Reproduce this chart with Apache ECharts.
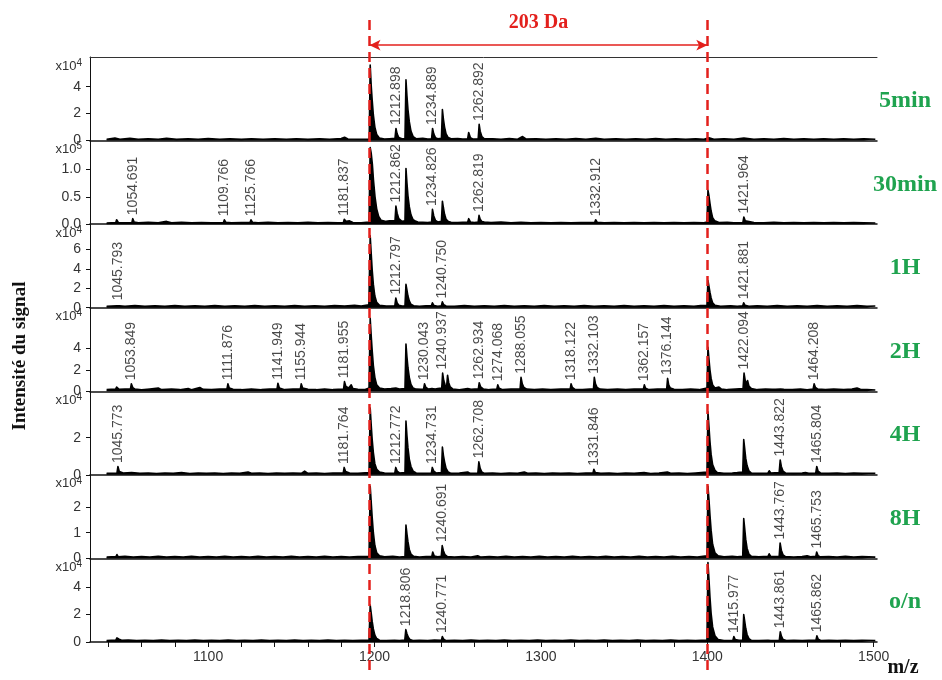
<!DOCTYPE html>
<html>
<head>
<meta charset="utf-8">
<script src="https://cdn.jsdelivr.net/npm/echarts@6/dist/echarts.min.js"></script>
<style>
  html, body { margin: 0; padding: 0; background: #fff; }
  #chart { width: 942px; height: 680px; }
</style>
</head>
<body>
<div id="chart"></div>
<script>
// m/z range shared by all stacked spectra
const mzMin = 1029;
const mzMax = 1502;
const xTickLabels = [1100, 1200, 1300, 1400, 1500];
const xMinorTicks = [1040, 1060, 1080, 1100, 1120, 1140, 1160, 1180, 1200, 1220, 1240, 1260, 1280,
  1300, 1320, 1340, 1360, 1380, 1400, 1420, 1440, 1460, 1480, 1500];

// Reaction times, one spectrum each
const panelNames = ['5min', '30min', '1H', '2H', '4H', '8H', 'o/n'];
const panelExponents = [4, 5, 4, 4, 4, 4, 4];
const panelMax = [6.2, 1.53, 8.6, 7.8, 4.5, 3.25, 6.1];
const yTicks5min = [0, 2, 4];
const yTicks30min = [0, 0.5, 1.0];
const yTicks1H = [0, 2, 4, 6];
const yTicks2H = [0, 2, 4];
const yTicks4H = [0, 2];
const yTicks8H = [0, 1, 2];
const yTicksON = [0, 2, 4];
const yDecimals = [0, 1, 0, 0, 0, 0, 0];

// Mass shift between the two main species
const shiftLines = [1197, 1400];
const shiftLabel = '203 Da';

// Spectra: [m/z, intensity] in units of 10^exponent
const trace5min = [[1039,0.10],[1044,0.18],[1047,0.10],[1053,0.16],[1058,0.10],[1064,0.14],[1070,0.10],[1075,0.16],[1081,0.09],[1088,0.14],[1094,0.10],[1100,0.15],[1107,0.10],[1113,0.14],[1120,0.09],[1126,0.13],[1133,0.10],[1140,0.14],[1147,0.10],[1153,0.13],[1160,0.09],[1167,0.14],[1173,0.10],[1180,0.15],[1182,0.25],[1184,0.12],[1190,0.10],[1196.8,0.12],[1197.4,5.6],[1198.0,4.1],[1198.6,3.0],[1199.3,1.9],[1200.2,1.0],[1201.3,0.45],[1203,0.18],[1206,0.12],[1209,0.14],[1212.3,0.16],[1212.898,0.9],[1213.6,0.5],[1214.6,0.22],[1216.5,0.13],[1218.3,0.15],[1218.9,4.5],[1219.5,3.3],[1220.1,2.3],[1220.9,1.4],[1221.9,0.7],[1223.2,0.3],[1225,0.14],[1229,0.16],[1232,0.11],[1234.3,0.14],[1234.889,0.9],[1235.6,0.5],[1236.6,0.22],[1238,0.14],[1240.2,0.16],[1240.8,2.3],[1241.4,1.6],[1242.1,1.0],[1243,0.5],[1244.3,0.22],[1246,0.13],[1250,0.15],[1253,0.11],[1256,0.14],[1256.6,0.6],[1257.6,0.22],[1259,0.12],[1262.3,0.14],[1262.892,1.2],[1263.5,0.7],[1264.5,0.3],[1266,0.13],[1271,0.14],[1276,0.10],[1281,0.15],[1286,0.10],[1289,0.3],[1291,0.12],[1297,0.14],[1303,0.10],[1309,0.13],[1315,0.10],[1321,0.15],[1327,0.10],[1333,0.17],[1338,0.10],[1345,0.14],[1351,0.10],[1357,0.13],[1363,0.10],[1369,0.15],[1375,0.10],[1381,0.13],[1387,0.10],[1393,0.14],[1398,0.10],[1401,0.2],[1404,0.10],[1410,0.14],[1416,0.10],[1422,0.18],[1428,0.10],[1434,0.13],[1440,0.10],[1446,0.15],[1452,0.10],[1458,0.13],[1464,0.10],[1470,0.14],[1476,0.10],[1482,0.13],[1488,0.10],[1494,0.13],[1501,0.10]];
const labels5min = [1212.898, 1234.889, 1262.892];

const trace30min = [[1039,0.02],[1044.5,0.03],[1045,0.08],[1046,0.03],[1050,0.025],[1054.2,0.03],[1054.691,0.1],[1055.5,0.04],[1058,0.025],[1064,0.035],[1070,0.025],[1075,0.05],[1078,0.025],[1084,0.035],[1090,0.025],[1096,0.03],[1102,0.025],[1109.2,0.03],[1109.766,0.08],[1110.6,0.035],[1114,0.025],[1120,0.03],[1125.2,0.03],[1125.766,0.08],[1126.6,0.035],[1130,0.025],[1136,0.035],[1142,0.025],[1148,0.03],[1154,0.025],[1160,0.035],[1166,0.025],[1172,0.03],[1178,0.025],[1181.3,0.03],[1181.837,0.09],[1183,0.05],[1185,0.06],[1187,0.03],[1192,0.025],[1196.7,0.04],[1197.4,1.4],[1198.0,1.3],[1198.7,1.1],[1199.4,0.8],[1200.3,0.5],[1201.3,0.28],[1202.5,0.14],[1204,0.07],[1207,0.05],[1209,0.06],[1212.3,0.06],[1212.862,0.33],[1213.6,0.2],[1214.6,0.1],[1216.5,0.05],[1218.3,0.06],[1218.9,1.02],[1219.5,0.75],[1220.1,0.52],[1220.9,0.32],[1221.9,0.17],[1223.2,0.08],[1224.5,0.06],[1226,0.04],[1229,0.035],[1232,0.03],[1234.3,0.04],[1234.826,0.27],[1235.6,0.15],[1236.6,0.07],[1238,0.04],[1240.2,0.05],[1240.8,0.42],[1241.4,0.3],[1242.1,0.18],[1243,0.09],[1244.3,0.05],[1246,0.035],[1250,0.03],[1256,0.04],[1256.6,0.1],[1257.6,0.04],[1260,0.03],[1262.3,0.04],[1262.819,0.16],[1263.5,0.09],[1264.5,0.05],[1266,0.04],[1270,0.03],[1276,0.04],[1282,0.025],[1288,0.035],[1294,0.025],[1300,0.03],[1306,0.025],[1312,0.03],[1318,0.025],[1324,0.03],[1332.3,0.03],[1332.912,0.08],[1333.8,0.035],[1338,0.025],[1344,0.03],[1350,0.025],[1356,0.03],[1362,0.025],[1368,0.03],[1374,0.025],[1380,0.03],[1386,0.025],[1392,0.03],[1398,0.025],[1399.8,0.04],[1400.4,0.62],[1401.0,0.52],[1401.6,0.38],[1402.3,0.24],[1403.2,0.12],[1404.5,0.06],[1407,0.03],[1412,0.035],[1416,0.025],[1421.4,0.03],[1421.964,0.13],[1422.8,0.06],[1424,0.035],[1428,0.03],[1434,0.025],[1440,0.035],[1446,0.025],[1452,0.03],[1458,0.025],[1464,0.03],[1470,0.025],[1476,0.03],[1482,0.025],[1488,0.03],[1494,0.025],[1501,0.02]];
const labels30min = [1054.691, 1109.766, 1125.766, 1181.837, 1212.862, 1234.826, 1262.819, 1332.912, 1421.964];

const trace1H = [[1039,0.15],[1045.2,0.2],[1045.793,0.4],[1046.6,0.2],[1050,0.15],[1056,0.22],[1062,0.15],[1068,0.2],[1074,0.15],[1080,0.22],[1086,0.15],[1092,0.2],[1098,0.15],[1104,0.22],[1110,0.15],[1116,0.2],[1122,0.15],[1128,0.22],[1134,0.15],[1140,0.2],[1146,0.15],[1152,0.22],[1158,0.15],[1164,0.2],[1170,0.15],[1176,0.22],[1182,0.18],[1188,0.24],[1192,0.18],[1196.6,0.3],[1197.4,7.4],[1198.0,5.6],[1198.6,3.9],[1199.3,2.4],[1200.2,1.2],[1201.3,0.55],[1203,0.25],[1207,0.18],[1212.2,0.2],[1212.797,1.0],[1213.6,0.5],[1214.6,0.25],[1216.5,0.18],[1218.3,0.2],[1218.9,2.4],[1219.5,1.8],[1220.1,1.2],[1220.9,0.7],[1221.9,0.35],[1223.5,0.2],[1227,0.15],[1231,0.2],[1234.2,0.2],[1234.8,0.5],[1235.8,0.22],[1238,0.15],[1240.2,0.2],[1240.750,0.6],[1241.6,0.3],[1243,0.18],[1248,0.15],[1254,0.22],[1260,0.15],[1266,0.2],[1272,0.15],[1278,0.22],[1284,0.15],[1290,0.2],[1296,0.15],[1302,0.22],[1308,0.15],[1314,0.2],[1320,0.15],[1326,0.22],[1332,0.15],[1338,0.2],[1344,0.15],[1350,0.22],[1356,0.15],[1362,0.2],[1368,0.15],[1374,0.22],[1380,0.15],[1386,0.2],[1392,0.15],[1396,0.22],[1399.8,0.25],[1400.4,2.8],[1401.0,2.2],[1401.6,1.6],[1402.3,1.0],[1403.2,0.5],[1404.6,0.25],[1408,0.15],[1414,0.2],[1418,0.15],[1421.3,0.2],[1421.881,0.5],[1422.7,0.25],[1425,0.15],[1430,0.2],[1436,0.15],[1442,0.22],[1448,0.15],[1454,0.2],[1460,0.15],[1466,0.22],[1472,0.15],[1478,0.2],[1484,0.15],[1490,0.22],[1496,0.15],[1501,0.18]];
const labels1H = [1045.793, 1212.797, 1240.750, 1421.881];

const trace2H = [[1039,0.15],[1044.4,0.2],[1045,0.4],[1046.5,0.18],[1050,0.2],[1053.3,0.2],[1053.849,0.7],[1054.7,0.35],[1056,0.2],[1060,0.15],[1065,0.22],[1070,0.3],[1072,0.15],[1078,0.2],[1083,0.15],[1088,0.25],[1090,0.15],[1095,0.35],[1097,0.18],[1102,0.15],[1107,0.2],[1111.3,0.2],[1111.876,0.7],[1112.7,0.3],[1115,0.18],[1120,0.15],[1126,0.22],[1132,0.15],[1137,0.2],[1141.4,0.2],[1141.949,0.75],[1142.8,0.3],[1146,0.15],[1151,0.2],[1155.4,0.2],[1155.944,0.7],[1156.8,0.3],[1160,0.18],[1165,0.15],[1170,0.22],[1175,0.15],[1181.4,0.2],[1181.955,0.9],[1182.8,0.45],[1184.5,0.3],[1186,0.6],[1187,0.25],[1190,0.18],[1194,0.15],[1196.7,0.3],[1197.4,6.8],[1198.0,5.2],[1198.6,3.8],[1199.3,2.4],[1200.2,1.3],[1201.3,0.6],[1203,0.3],[1206,0.2],[1210,0.25],[1212.8,0.3],[1215,0.2],[1218.3,0.25],[1218.9,4.4],[1219.5,3.2],[1220.1,2.2],[1220.9,1.3],[1221.9,0.65],[1223.2,0.3],[1225,0.2],[1228,0.18],[1229.5,0.22],[1230.043,0.7],[1230.9,0.35],[1232.5,0.2],[1234.5,0.25],[1235,0.4],[1236.5,0.2],[1238,0.25],[1240.4,0.3],[1240.937,1.7],[1241.6,1.0],[1242.4,0.6],[1243.3,0.4],[1243.9,1.5],[1244.6,0.8],[1245.5,0.4],[1247,0.22],[1251,0.15],[1256,0.25],[1258,0.18],[1262.4,0.22],[1262.934,0.8],[1263.8,0.4],[1265.5,0.2],[1269,0.15],[1273.5,0.2],[1274.068,0.6],[1274.9,0.28],[1277,0.15],[1282,0.2],[1287.5,0.22],[1288.055,1.3],[1288.8,0.7],[1289.8,0.35],[1291.5,0.2],[1296,0.15],[1301,0.2],[1306,0.15],[1312,0.2],[1317.6,0.2],[1318.122,0.7],[1318.9,0.35],[1320.5,0.18],[1325,0.15],[1331.6,0.22],[1332.103,1.3],[1332.8,0.7],[1333.8,0.35],[1335.5,0.2],[1340,0.15],[1346,0.2],[1351,0.15],[1356,0.2],[1361.6,0.2],[1362.157,0.6],[1362.9,0.28],[1365,0.15],[1370,0.2],[1375.6,0.22],[1376.144,1.2],[1376.8,0.6],[1377.8,0.3],[1380,0.18],[1385,0.15],[1390,0.2],[1395,0.15],[1399.8,0.3],[1400.4,4.1],[1401.0,3.0],[1401.6,2.0],[1402.3,1.2],[1403.2,0.6],[1404.6,0.3],[1407,0.4],[1408.5,0.2],[1412,0.15],[1417,0.2],[1421.5,0.25],[1422.094,1.7],[1422.8,1.0],[1423.5,0.7],[1424.2,1.0],[1425,0.5],[1426.5,0.25],[1430,0.15],[1435,0.2],[1439,0.18],[1440,0.35],[1441,0.18],[1444,0.2],[1445,0.3],[1446,0.18],[1451,0.15],[1456,0.2],[1460,0.15],[1463.6,0.2],[1464.208,0.7],[1465,0.35],[1466.5,0.2],[1471,0.15],[1476,0.2],[1482,0.15],[1487,0.2],[1490,0.3],[1492,0.18],[1496,0.15],[1501,0.12]];
const labels2H = [1053.849, 1111.876, 1141.949, 1155.944, 1181.955, 1230.043, 1240.937, 1262.934,
  1274.068, 1288.055, 1318.122, 1332.103, 1362.157, 1376.144, 1422.094, 1464.208];

const trace4H = [[1039,0.08],[1045.2,0.1],[1045.773,0.45],[1046.6,0.18],[1049,0.1],[1054,0.12],[1059,0.08],[1064,0.1],[1069,0.07],[1074,0.1],[1079,0.08],[1084,0.12],[1089,0.07],[1094,0.1],[1099,0.08],[1104,0.1],[1109,0.07],[1114,0.1],[1119,0.08],[1124,0.15],[1126,0.08],[1131,0.1],[1136,0.07],[1141,0.1],[1146,0.08],[1151,0.1],[1156,0.08],[1158,0.2],[1160,0.08],[1165,0.1],[1170,0.07],[1175,0.1],[1181.2,0.1],[1181.764,0.4],[1182.6,0.18],[1185,0.1],[1190,0.08],[1196.7,0.12],[1197.4,3.6],[1198.0,2.7],[1198.6,1.9],[1199.3,1.2],[1200.2,0.6],[1201.3,0.3],[1203,0.15],[1206,0.1],[1210,0.08],[1212.2,0.1],[1212.772,0.4],[1213.6,0.2],[1215,0.1],[1218.3,0.12],[1218.9,2.9],[1219.5,2.1],[1220.1,1.45],[1220.9,0.85],[1221.9,0.45],[1223.2,0.2],[1225,0.1],[1229,0.08],[1234.2,0.1],[1234.731,0.4],[1235.6,0.2],[1237,0.1],[1240.2,0.12],[1240.8,1.5],[1241.4,1.05],[1242.1,0.7],[1243,0.35],[1244.3,0.15],[1246,0.08],[1251,0.1],[1256,0.15],[1257.5,0.08],[1262.1,0.1],[1262.708,0.7],[1263.5,0.35],[1264.5,0.15],[1266,0.08],[1271,0.1],[1276,0.07],[1281,0.1],[1286,0.08],[1290,0.15],[1292,0.08],[1297,0.1],[1302,0.07],[1307,0.1],[1312,0.08],[1317,0.1],[1322,0.07],[1327,0.1],[1331.3,0.1],[1331.846,0.3],[1332.7,0.12],[1336,0.08],[1341,0.1],[1346,0.07],[1351,0.1],[1356,0.08],[1362,0.12],[1366,0.07],[1371,0.1],[1376,0.15],[1378,0.08],[1383,0.1],[1388,0.07],[1393,0.1],[1399.8,0.15],[1400.4,3.4],[1401.0,2.6],[1401.6,1.8],[1402.3,1.1],[1403.2,0.55],[1404.6,0.25],[1406,0.12],[1410,0.08],[1415,0.1],[1418,0.12],[1421.3,0.15],[1421.9,1.9],[1422.5,1.4],[1423.1,0.9],[1423.9,0.5],[1425,0.22],[1426.5,0.1],[1431,0.08],[1436.5,0.1],[1437.2,0.22],[1438.2,0.1],[1443.2,0.12],[1443.822,0.8],[1444.5,0.45],[1445.5,0.2],[1447,0.1],[1452,0.08],[1457,0.1],[1459,0.12],[1461,0.08],[1465.2,0.1],[1465.804,0.45],[1466.6,0.2],[1468,0.1],[1473,0.08],[1478,0.1],[1483,0.07],[1488,0.1],[1493,0.08],[1501,0.08]];
const labels4H = [1045.773, 1181.764, 1212.772, 1234.731, 1262.708, 1331.846, 1443.822, 1465.804];

const trace8H = [[1039,0.05],[1044.6,0.07],[1045.2,0.15],[1046,0.06],[1050,0.08],[1055,0.05],[1060,0.07],[1065,0.05],[1070,0.08],[1075,0.05],[1080,0.07],[1085,0.05],[1090,0.08],[1095,0.05],[1100,0.07],[1105,0.05],[1110,0.08],[1115,0.05],[1120,0.07],[1125,0.05],[1130,0.08],[1135,0.05],[1140,0.07],[1145,0.05],[1150,0.08],[1155,0.05],[1160,0.07],[1165,0.05],[1170,0.08],[1175,0.05],[1180,0.07],[1185,0.05],[1190,0.07],[1196.7,0.08],[1197.4,2.8],[1198.0,2.2],[1198.6,1.6],[1199.3,1.0],[1200.2,0.5],[1201.3,0.22],[1203,0.1],[1206,0.06],[1211,0.08],[1215,0.05],[1218.3,0.07],[1218.9,1.3],[1219.5,0.95],[1220.1,0.65],[1220.9,0.35],[1221.9,0.17],[1223.5,0.08],[1227,0.05],[1231,0.07],[1234.4,0.07],[1235,0.25],[1235.9,0.09],[1238,0.06],[1240.1,0.08],[1240.691,0.5],[1241.4,0.3],[1242.3,0.15],[1243.8,0.07],[1248,0.05],[1253,0.07],[1258,0.05],[1262,0.1],[1264,0.05],[1269,0.07],[1274,0.05],[1279,0.08],[1284,0.05],[1289,0.07],[1294,0.05],[1299,0.08],[1304,0.05],[1309,0.07],[1314,0.05],[1319,0.08],[1324,0.05],[1329,0.07],[1334,0.05],[1339,0.08],[1344,0.05],[1349,0.07],[1354,0.05],[1359,0.08],[1364,0.05],[1369,0.07],[1374,0.05],[1379,0.08],[1384,0.05],[1389,0.07],[1394,0.05],[1399.8,0.1],[1400.4,2.8],[1401.0,2.3],[1401.6,1.7],[1402.3,1.1],[1403.2,0.55],[1404.6,0.22],[1406.5,0.1],[1410,0.06],[1415,0.08],[1418,0.06],[1421.3,0.08],[1421.9,1.55],[1422.5,1.15],[1423.1,0.75],[1423.9,0.4],[1425,0.17],[1426.5,0.08],[1431,0.06],[1436.5,0.08],[1437.2,0.18],[1438.2,0.07],[1443.2,0.08],[1443.767,0.6],[1444.5,0.32],[1445.5,0.14],[1447,0.07],[1452,0.05],[1457,0.07],[1460,0.1],[1462,0.06],[1465.2,0.08],[1465.753,0.25],[1466.6,0.1],[1468,0.06],[1473,0.07],[1478,0.05],[1483,0.08],[1488,0.05],[1493,0.07],[1501,0.05]];
const labels8H = [1240.691, 1443.767, 1465.753];

const traceON = [[1039,0.1],[1044.6,0.15],[1045.2,0.3],[1046.5,0.2],[1048,0.12],[1052,0.15],[1057,0.1],[1062,0.13],[1067,0.1],[1072,0.14],[1077,0.1],[1082,0.13],[1087,0.1],[1092,0.14],[1097,0.1],[1102,0.13],[1107,0.1],[1112,0.14],[1117,0.1],[1122,0.13],[1127,0.1],[1132,0.14],[1137,0.1],[1142,0.13],[1147,0.1],[1152,0.14],[1157,0.1],[1162,0.13],[1167,0.1],[1172,0.14],[1177,0.1],[1182,0.13],[1187,0.1],[1192,0.12],[1196.7,0.14],[1197.4,2.7],[1198.0,2.1],[1198.6,1.5],[1199.3,0.95],[1200.2,0.5],[1201.3,0.25],[1203,0.13],[1207,0.1],[1212,0.13],[1215,0.1],[1218.2,0.14],[1218.806,0.9],[1219.5,0.6],[1220.3,0.35],[1221.3,0.18],[1223,0.1],[1227,0.13],[1232,0.1],[1236,0.14],[1240.2,0.13],[1240.771,0.4],[1241.6,0.2],[1243,0.1],[1248,0.13],[1253,0.1],[1258,0.14],[1263,0.1],[1268,0.13],[1273,0.1],[1278,0.14],[1283,0.1],[1288,0.13],[1293,0.1],[1298,0.14],[1303,0.1],[1308,0.13],[1313,0.1],[1318,0.14],[1323,0.1],[1328,0.13],[1333,0.1],[1338,0.14],[1343,0.1],[1348,0.13],[1353,0.1],[1358,0.14],[1363,0.1],[1368,0.13],[1373,0.1],[1378,0.14],[1383,0.1],[1388,0.13],[1393,0.1],[1399.8,0.15],[1400.4,5.8],[1401.0,4.6],[1401.6,3.3],[1402.3,2.1],[1403.2,1.1],[1404.6,0.45],[1406.5,0.18],[1410,0.1],[1415.4,0.13],[1415.977,0.4],[1416.8,0.18],[1419,0.12],[1421.3,0.15],[1421.9,2.0],[1422.5,1.5],[1423.1,1.0],[1423.9,0.55],[1425,0.25],[1426.5,0.12],[1431,0.1],[1436.5,0.12],[1437.2,0.2],[1438.2,0.1],[1443.3,0.13],[1443.861,0.75],[1444.6,0.4],[1445.6,0.18],[1447.5,0.1],[1452,0.13],[1457,0.1],[1461,0.13],[1465.3,0.13],[1465.862,0.45],[1466.7,0.2],[1468.5,0.1],[1473,0.13],[1478,0.1],[1483,0.13],[1488,0.1],[1493,0.13],[1501,0.1]];
const labelsON = [1218.806, 1240.771, 1415.977, 1443.861, 1465.862];

const traces = [trace5min, trace30min, trace1H, trace2H, trace4H, trace8H, traceON];
const peakLabels = [labels5min, labels30min, labels1H, labels2H, labels4H, labels8H, labelsON];
const yTicks = [yTicks5min, yTicks30min, yTicks1H, yTicks2H, yTicks4H, yTicks8H, yTicksON];

// Layout of the stacked panels
const plotLeft = 90;
const plotRight = 65;
const panelTop = 57;
const panelHeight = 83.57;
const overlayTop = 15;
const overlayBottom = 10;
const arrowLevel = 95.4; // percent of overlay height, from its bottom

const sansFont = '"Liberation Sans", Arial, sans-serif';
const serifFont = '"Liberation Serif", "Times New Roman", serif';
const green = '#1fa34f';
const red = '#e3201c';

const grids = [], xAxes = [], yAxes = [], series = [], graphics = [];

panelNames.forEach((name, i) => {
  const last = i === panelNames.length - 1;
  grids.push({ left: plotLeft, right: plotRight, top: panelTop + i * panelHeight, height: panelHeight });
  xAxes.push({
    type: 'value', gridIndex: i, min: mzMin, max: mzMax,
    axisLine: { show: true, onZero: false, lineStyle: { color: '#111', width: 1.5 } },
    axisTick: last ? { show: true, customValues: xMinorTicks, length: 5, lineStyle: { color: '#111' } } : { show: false },
    axisLabel: last ? {
      show: true, customValues: xTickLabels, fontSize: 14, color: '#333', fontFamily: sansFont, margin: 8,
      formatter: v => String(v)
    } : { show: false },
    splitLine: { show: false }
  });
  yAxes.push({
    type: 'value', gridIndex: i, min: 0, max: panelMax[i],
    name: 'x10{s|' + panelExponents[i] + '}',
    nameLocation: 'end', nameGap: -9,
    nameTextStyle: {
      align: 'right', verticalAlign: 'middle', padding: [0, 8, 0, 0],
      fontSize: 13, color: '#333', fontFamily: sansFont,
      rich: { s: { fontSize: 10, verticalAlign: 'top', padding: [0, 0, 6, 0], color: '#333', fontFamily: sansFont } }
    },
    axisLine: { show: true, lineStyle: { color: '#111', width: 1 } },
    axisTick: { show: true, customValues: yTicks[i], length: 4, lineStyle: { color: '#111' } },
    axisLabel: {
      customValues: yTicks[i], fontSize: 14, color: '#333', fontFamily: sansFont, margin: 9,
      formatter: v => v.toFixed(yDecimals[i])
    },
    splitLine: { show: false }
  });
  series.push({
    type: 'line', xAxisIndex: i, yAxisIndex: i, data: traces[i],
    showSymbol: false, symbol: 'none', silent: true,
    lineStyle: { color: '#000', width: 1.6, join: 'round' },
    areaStyle: { color: '#000', opacity: 1 },
    z: 2
  });
  const labelled = peakLabels[i].map(mz => traces[i].find(p => p[0] === mz));
  series.push({
    type: 'scatter', xAxisIndex: i, yAxisIndex: i, data: labelled,
    symbol: 'rect', symbolSize: [1, 1], itemStyle: { color: 'rgba(0,0,0,0)' }, silent: true,
    label: {
      show: true, position: 'top', distance: 3, rotate: 90, align: 'left', verticalAlign: 'middle',
      fontSize: 14, color: '#1a1a1a', fontFamily: sansFont,
      formatter: p => p.value[0].toFixed(3)
    },
    z: 3
  });
  graphics.push({
    type: 'text', x: 905, y: panelTop + i * panelHeight + panelHeight / 2 + 2,
    style: { text: name, fill: green, font: 'bold 24px ' + serifFont, align: 'center', verticalAlign: 'middle' }
  });
});

// Top border of the first panel
xAxes.push({
  type: 'value', gridIndex: 0, position: 'top', min: mzMin, max: mzMax,
  axisLine: { show: true, onZero: false, lineStyle: { color: '#333', width: 1 } },
  axisTick: { show: false }, axisLabel: { show: false }, splitLine: { show: false }
});

// Overlay spanning all panels for the mass-shift markers
const ov = panelNames.length;
grids.push({ left: plotLeft, right: plotRight, top: overlayTop, bottom: overlayBottom });
xAxes.push({ type: 'value', gridIndex: ov, min: mzMin, max: mzMax, show: false });
yAxes.push({ type: 'value', gridIndex: ov, min: 0, max: 100, show: false });
series.push({
  type: 'line', xAxisIndex: xAxes.length - 1, yAxisIndex: yAxes.length - 1, data: [],
  silent: true, z: 10,
  markLine: {
    silent: true, animation: false, symbol: ['none', 'none'],
    label: { show: false },
    lineStyle: { color: red, width: 2.5, type: [10, 6] },
    data: [
      { xAxis: shiftLines[0] },
      { xAxis: shiftLines[1] },
      [
        { coord: [shiftLines[0], arrowLevel], symbol: 'arrow', symbolSize: [8, 11] },
        {
          coord: [shiftLines[1], arrowLevel], symbol: 'arrow', symbolSize: [8, 11],
          lineStyle: { color: red, width: 1.5, type: 'solid' },
          label: {
            show: true, position: 'insideMiddleTop', distance: 12, formatter: shiftLabel,
            color: red, fontSize: 20, fontWeight: 'bold', fontFamily: serifFont
          }
        }
      ]
    ]
  }
});

graphics.push({
  type: 'text', x: 20, y: 356, rotation: Math.PI / 2,
  style: { text: 'Intensité du signal', fill: '#111', font: 'bold 19px ' + serifFont, align: 'center', verticalAlign: 'middle' }
});
graphics.push({
  type: 'text', x: 903, y: 668,
  style: { text: 'm/z', fill: '#111', font: 'bold 20px ' + serifFont, align: 'center', verticalAlign: 'middle' }
});

const chart = echarts.init(document.getElementById('chart'), null, { renderer: 'canvas' });
chart.setOption({
  animation: false,
  backgroundColor: '#fff',
  grid: grids,
  xAxis: xAxes,
  yAxis: yAxes,
  series: series,
  graphic: graphics
});
</script>
</body>
</html>
